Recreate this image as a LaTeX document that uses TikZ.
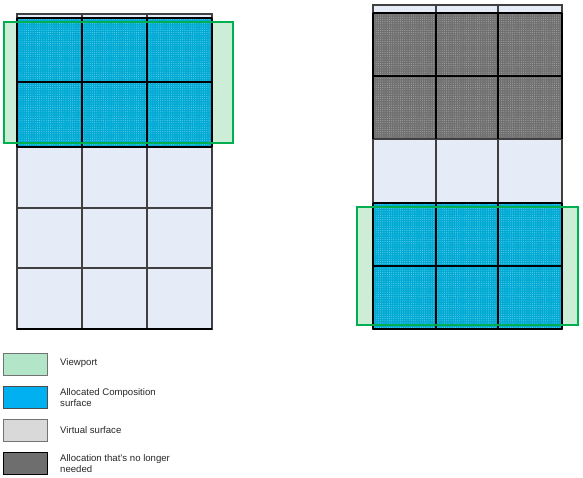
\documentclass[tikz,border=0pt]{standalone}
\usepackage{fontspec}
\setmainfont{Liberation Sans}
\usetikzlibrary{patterns.meta}
\definecolor{vpfill}{RGB}{204,238,214}
\definecolor{vpline}{RGB}{0,176,80}
\definecolor{virt}{RGB}{230,236,247}
\definecolor{alloc}{RGB}{0,170,212}
\definecolor{allocdot}{RGB}{130,215,238}
\definecolor{dead}{RGB}{112,112,112}
\definecolor{deaddot}{RGB}{180,180,180}
\definecolor{legvp}{RGB}{179,230,200}
\definecolor{legalloc}{RGB}{0,176,240}
\definecolor{legvirt}{RGB}{217,217,217}
\definecolor{legdead}{RGB}{110,110,110}
\begin{document}
\begin{tikzpicture}[x=1pt,y=-1pt,
  gridline/.style={draw=black!75,line width=1.1pt},
  darkline/.style={draw=black,line width=1.1pt},
  allocfill/.style={fill=alloc,postaction={pattern={Dots[distance=2.2pt,radius=0.45pt]},pattern color=allocdot}},
  deadfill/.style={fill=dead,postaction={pattern={Dots[distance=2.2pt,radius=0.45pt]},pattern color=deaddot}},
  vpbox/.style={draw=vpline,line width=1.6pt},
  legbox/.style={minimum width=44pt,minimum height=22pt,inner sep=0pt,line width=0.8pt,anchor=north west},
  legtext/.style={anchor=west,font=\fontsize{9.6}{11}\selectfont,align=left,text=black!85,inner sep=0pt}]
\useasboundingbox (0,0) rectangle (583,477);
% ---------- left diagram ----------
\fill[vpfill] (4,22) rectangle (233,143);
\fill[virt] (17,14) rectangle (212,329);
\path[allocfill] (17,18) rectangle (212,147);
\foreach \y in {208,268} \draw[gridline] (17,\y) -- (212,\y);
\draw[gridline] (17,14) -- (212,14);
\foreach \x in {82,147} \draw[gridline] (\x,14) -- (\x,329);
\draw[gridline] (17,14) rectangle (212,329);
\draw[darkline] (17,18) -- (212,18);
\draw[darkline] (17,82) -- (212,82);
\draw[darkline] (17,147) -- (212,147);
\foreach \x in {17,82,147,212} \draw[darkline] (\x,18) -- (\x,147);
\draw[darkline] (17,329) -- (212,329);
\draw[vpbox] (4,22) rectangle (233,143);
% ---------- right diagram ----------
\fill[vpfill] (357,207) rectangle (578,325);
\fill[virt] (373,5) rectangle (562,329);
\path[deadfill] (373,13) rectangle (562,139);
\path[allocfill] (373,203) rectangle (562,329);
\draw[gridline] (373,5) rectangle (562,329);
\foreach \x in {436,498} \draw[gridline] (\x,5) -- (\x,329);
\draw[darkline] (373,13) -- (562,13);
\draw[darkline] (373,76) -- (562,76);
\draw[gridline] (373,139) -- (562,139);
\draw[darkline] (373,203) -- (562,203);
\draw[darkline] (373,266) -- (562,266);
\draw[darkline] (373,329) -- (562,329);
\foreach \x in {373,436,498,562} \draw[darkline] (\x,13) -- (\x,139);
\foreach \x in {373,436,498,562} \draw[darkline] (\x,203) -- (\x,329);
\draw[vpbox] (357,207) rectangle (578,325);
% ---------- legend ----------
\node[legbox,fill=legvp,draw=black!55] (lvp) at (3,353) {};
\node[legbox,fill=legalloc,draw=black!70] (lal) at (3,386) {};
\node[legbox,fill=legvirt,draw=black!55] (lvi) at (3,418.5) {};
\node[legbox,fill=legdead,draw=black] (lde) at (3,452) {};
\node[legtext] (tvp) at (60,363) {Viewport};
\node[legtext] (tal) at (60,397.5) {Allocated Composition\\surface};
\node[legtext] (tvi) at (60,430) {Virtual surface};
\node[legtext] (tde) at (60,463.5) {Allocation that's no longer\\needed};
\end{tikzpicture}
\end{document}
